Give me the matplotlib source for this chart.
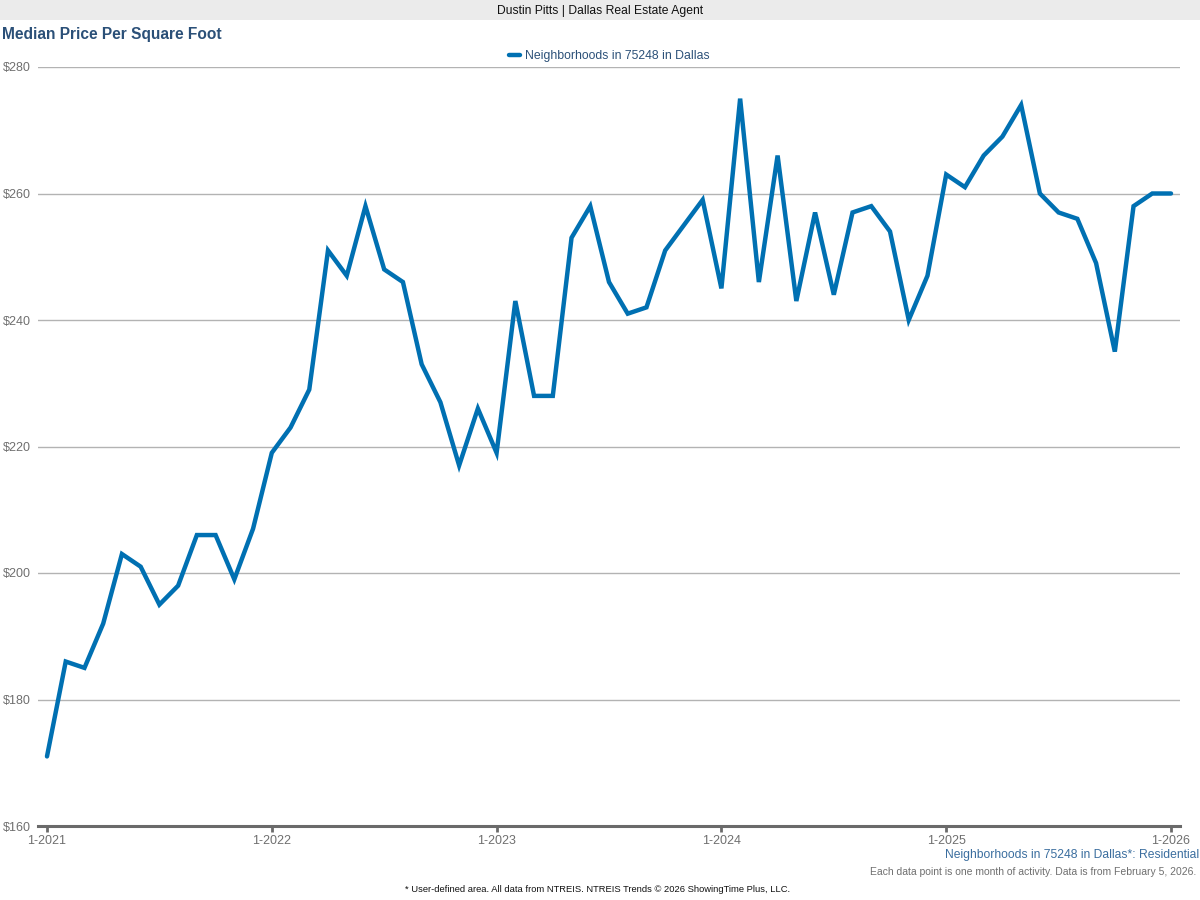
import numpy as np
import matplotlib
matplotlib.use("Agg")
import matplotlib.pyplot as plt
from matplotlib.patches import Rectangle

plt.rcParams['font.family'] = ['Liberation Sans', 'DejaVu Sans']

# ---------------- data (one point per month, 1-2021 .. 1-2026) ----------------
price = [171, 186, 185, 192, 203, 201, 195, 198, 206, 206, 199, 207,
         219, 223, 229, 251, 247, 258, 248, 246, 233, 227, 217, 226,
         219, 243, 228, 228, 253, 258, 246, 241, 242, 251, 255, 259,
         245, 275, 246, 266, 243, 257, 244, 257, 258, 254, 240, 247,
         263, 261, 266, 269, 274, 260, 257, 256, 249, 235, 258, 260,
         260]
year_labels = ["1-2021", "1-2022", "1-2023", "1-2024", "1-2025", "1-2026"]
y_ticks = [160, 180, 200, 220, 240, 260, 280]

line_col = "#0070b2"
title_col = "#2b5078"
grey_txt = "#6f6f6f"

fig = plt.figure(figsize=(12, 9), dpi=100)

# top banner
fig.patches.append(Rectangle((0, 1 - 20/900), 1, 20/900, transform=fig.transFigure,
                             facecolor="#ebebeb", edgecolor="none", zorder=0))
fig.text(0.5, 1 - 11/900, "Dustin Pitts | Dallas Real Estate Agent", ha="center", va="center",
         fontsize=8.75, color="#111111")
fig.text(2/1200, 1 - 35/900, "Median Price Per Square Foot", ha="left", va="center",
         fontsize=11.2, fontweight="bold", color=title_col)

ax = fig.add_axes([38/1200, 1 - 826/900, 1142/1200, 759/900])
months = np.arange(len(price))
ax.plot(months, price, color=line_col, lw=3.2, solid_joinstyle="miter",
        solid_capstyle="round", label="Neighborhoods in 75248 in Dallas", zorder=3)

ax.set_xlim(-0.48, 60.48)
ax.set_ylim(160, 280)
ax.set_yticks(y_ticks)
ax.set_yticklabels(["$%d" % v for v in y_ticks])
ax.set_xticks(np.arange(0, 61, 12))
ax.set_xticklabels(year_labels)
ax.yaxis.grid(True, color="#b3b3b3", lw=1)
ax.set_axisbelow(True)
for s in ["top", "right", "left"]:
    ax.spines[s].set_visible(False)
ax.spines["bottom"].set_color("#6a6a6a")
ax.spines["bottom"].set_linewidth(2.2)
ax.tick_params(axis="y", length=0, pad=5, labelsize=9, labelcolor=grey_txt)
ax.tick_params(axis="x", length=4, width=2, color="#6a6a6a", pad=2.5,
               labelsize=9, labelcolor=grey_txt)

leg = ax.legend(loc="lower center", bbox_to_anchor=(0.5, 1.0), frameon=False, fontsize=8.8,
                handlelength=0.9, handletextpad=0.4, borderaxespad=0.0)
for t in leg.get_texts():
    t.set_color(title_col)

# bottom notes
fig.text(1199/1200, 1 - 855/900, "Neighborhoods in 75248 in Dallas*: Residential",
         ha="right", va="center", fontsize=8.75, color="#3b6e9f")
fig.text(1196/1200, 1 - 872/900,
         "Each data point is one month of activity. Data is from February 5, 2026.",
         ha="right", va="center", fontsize=7.5, color=grey_txt)
fig.text(598/1200, 1 - 889/900,
         "* User-defined area. All data from NTREIS. NTREIS Trends \u00a9 2026 ShowingTime Plus, LLC.",
         ha="center", va="center", fontsize=6.75, color="#111111")

fig.savefig("out.png", dpi=100)
